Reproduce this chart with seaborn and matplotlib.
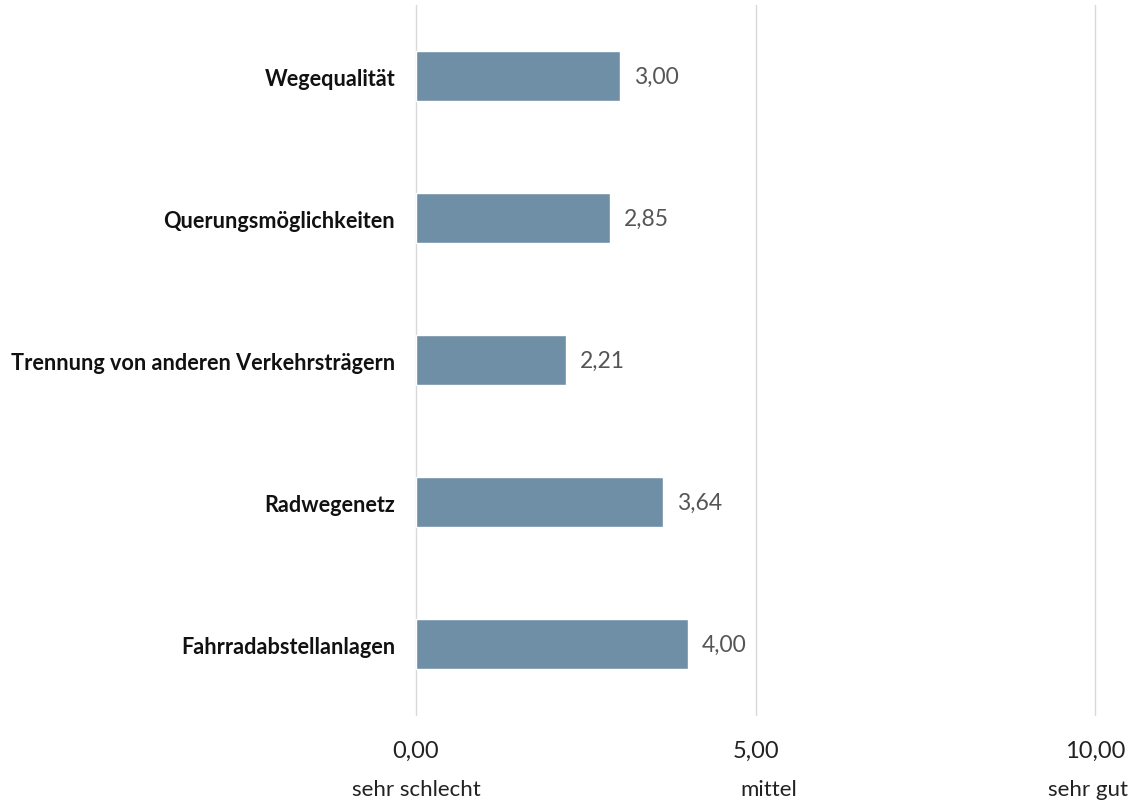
import matplotlib.pyplot as plt
import seaborn as sns
import pandas as pd

# Data
categories = ["Wegequalität", "Querungsmöglichkeiten", "Trennung von anderen Verkehrsträgern",
              "Radwegenetz", "Fahrradabstellanlagen"]
values = [3.00, 2.85, 2.21, 3.64, 4.00]
tick_values = [0, 5, 10]
tick_labels = ["0,00", "5,00", "10,00"]
scale_labels = ["sehr schlecht", "mittel", "sehr gut"]
scale_pos = [0, 5.2, 9.9]

df = pd.DataFrame({"Kategorie": categories, "Wert": values})

sns.set_theme(style="white")
plt.rcParams['font.family'] = ['Lato', 'DejaVu Sans']

fig = plt.figure(figsize=(11.32, 8.03), dpi=100)
ax = fig.add_axes([0.3675, 0.108, 0.6, 0.8845])

sns.barplot(data=df, y="Kategorie", x="Wert", color="#6f8fa6", saturation=1,
            width=0.35, orient="h", ax=ax)

ax.set_xlim(0, 10)
ax.set_ylim(4.5, -0.5)
ax.set_xticks(tick_values)
ax.set_xticklabels(tick_labels, fontsize=17, color="#222222")
ax.tick_params(axis="x", length=0, pad=18)
ax.tick_params(axis="y", length=0, pad=15)
for lbl in ax.get_yticklabels():
    lbl.set_fontsize(15.6)
    lbl.set_fontweight("bold")
    lbl.set_color("#111111")

ax.xaxis.grid(True, color="#d9d9d9", linewidth=1.0)
for gl in ax.get_xgridlines():
    gl.set_clip_on(False)
ax.set_axisbelow(True)
for s in ax.spines.values():
    s.set_visible(False)
ax.set_xlabel("")
ax.set_ylabel("")

ax.bar_label(ax.containers[0], labels=[f"{v:.2f}".replace(".", ",") for v in values],
             padding=10, fontsize=16.5, color="#555555")

for x, t in zip(scale_pos, scale_labels):
    ax.text(x, -0.104, t, transform=ax.get_xaxis_transform(), ha="center", va="center",
            fontsize=16, color="#222222")

fig.savefig("out.png", dpi=100)
